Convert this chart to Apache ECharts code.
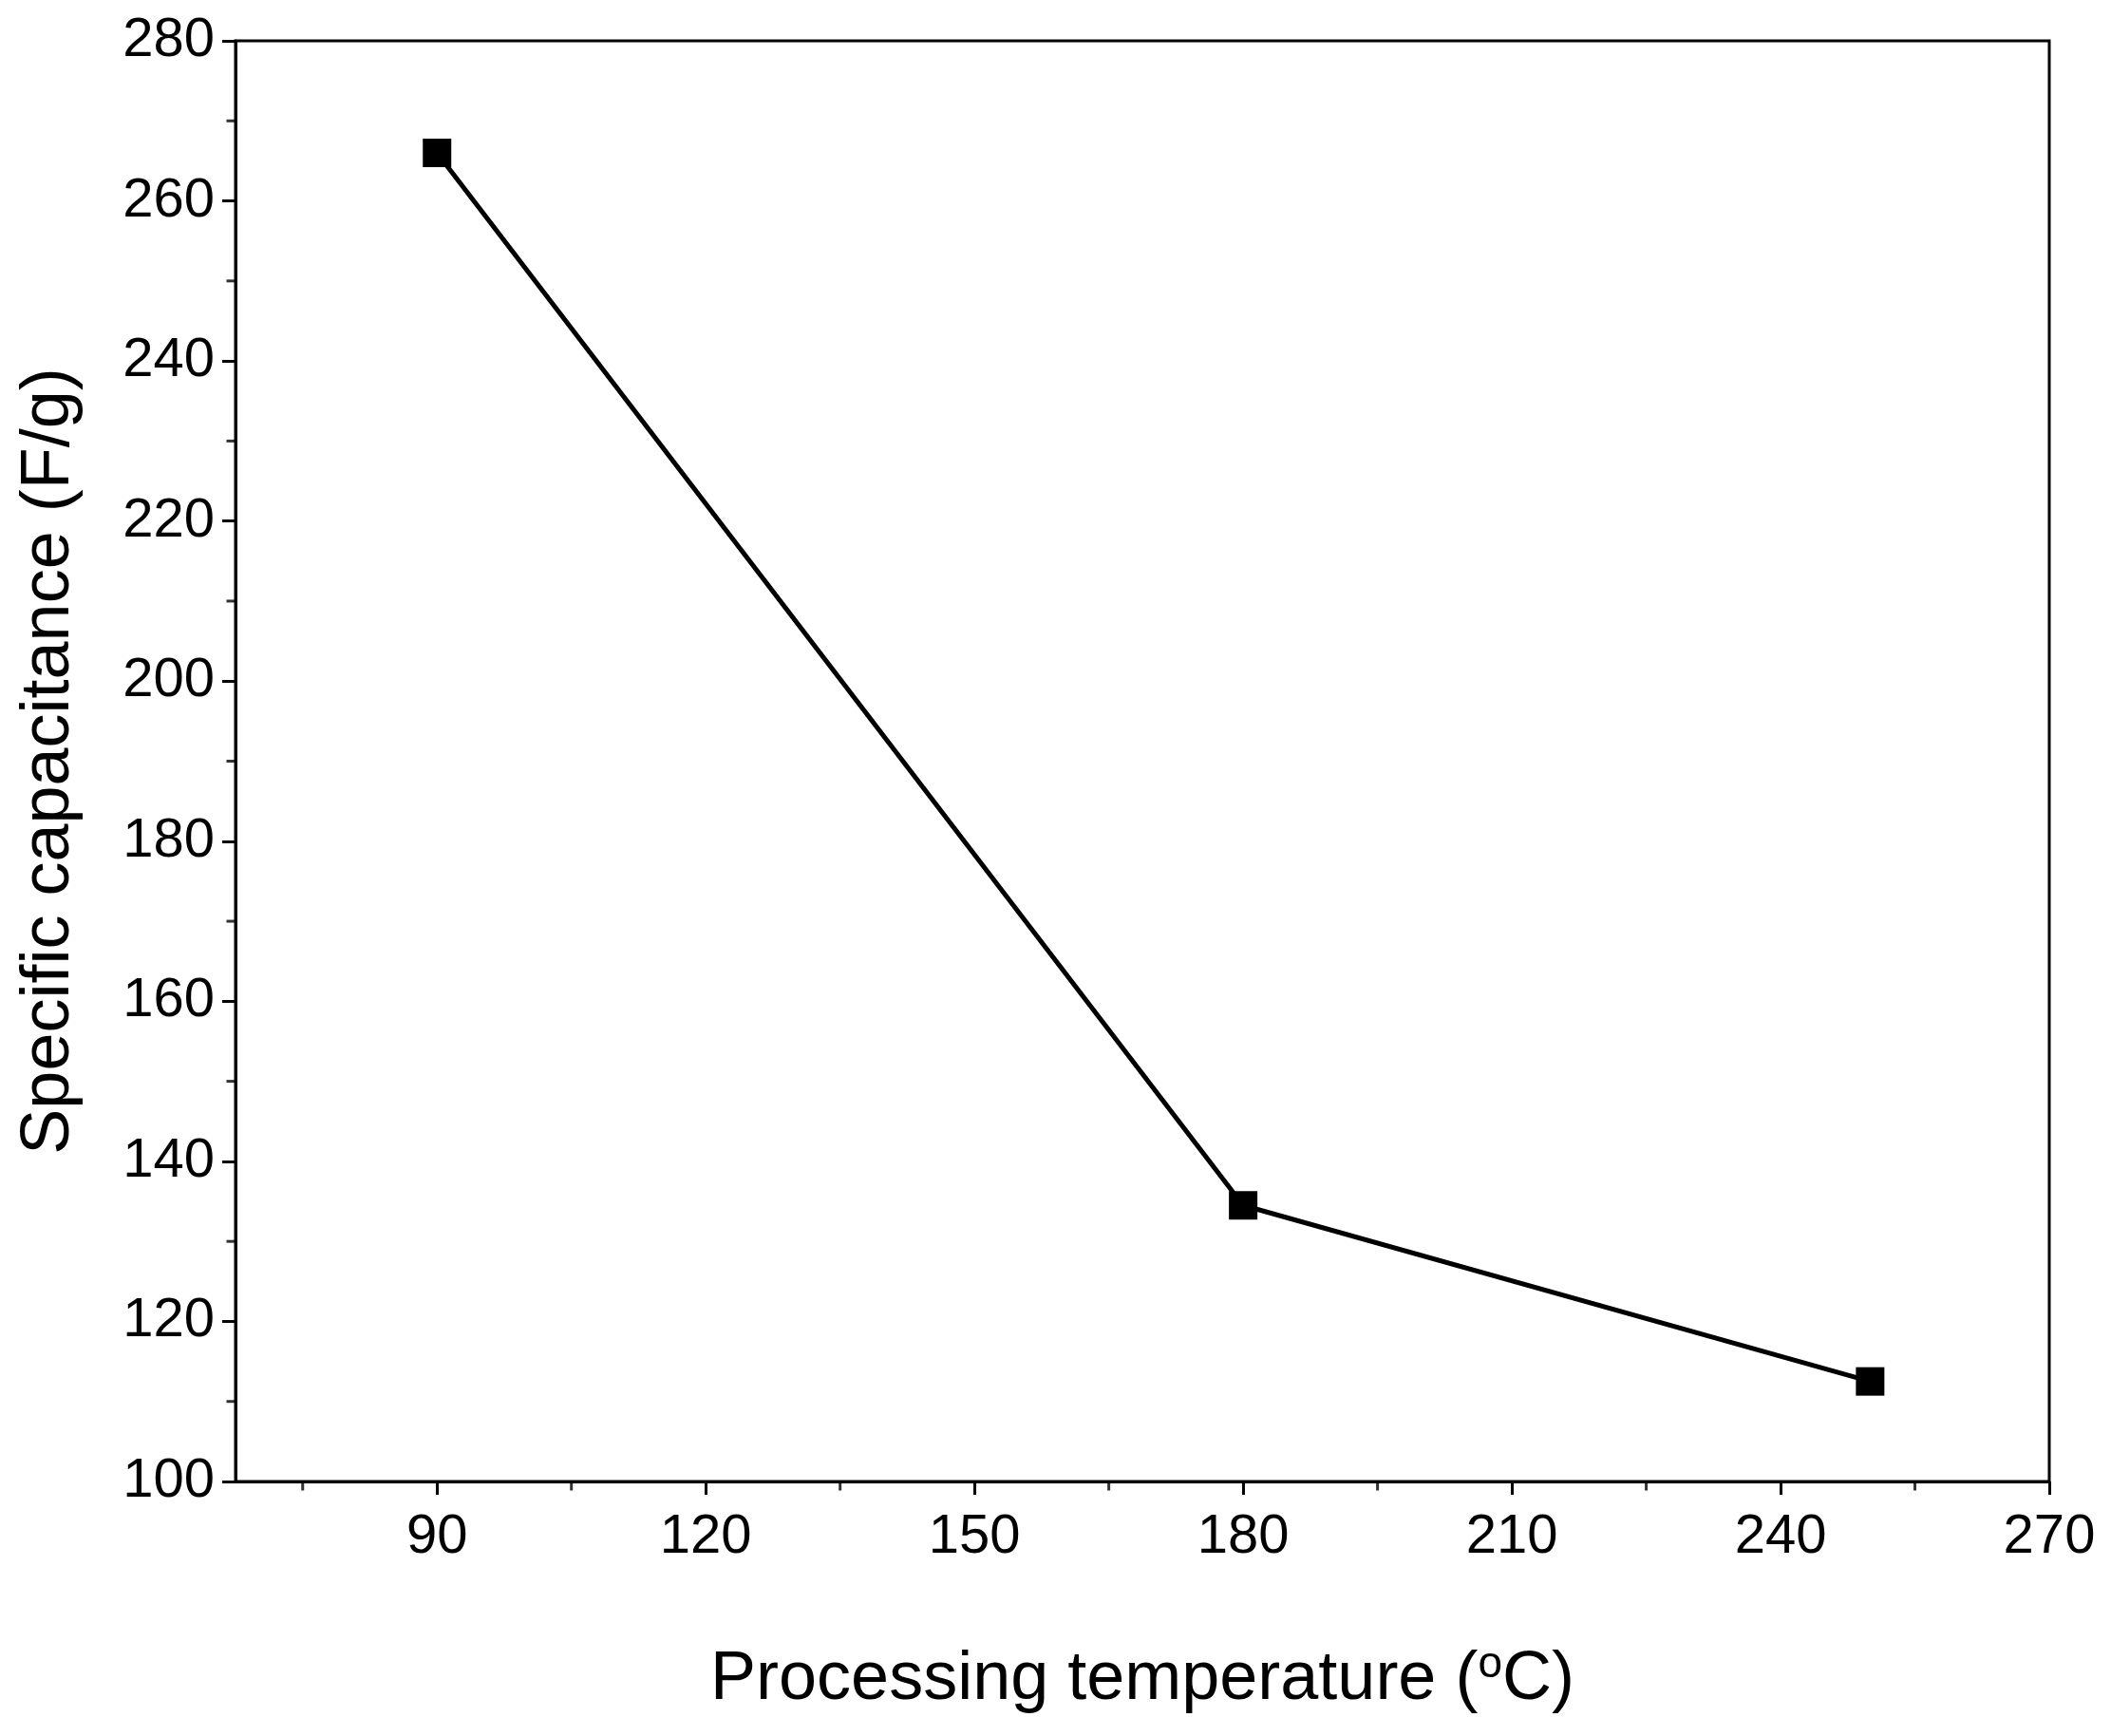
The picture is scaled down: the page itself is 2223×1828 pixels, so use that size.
<!DOCTYPE html>
<html><head><meta charset="utf-8">
<script src="https://cdn.jsdelivr.net/npm/echarts@6/dist/echarts.min.js"></script>
<style>html,body{margin:0;padding:0;background:#fff}#c{width:2223px;height:1828px}</style>
</head><body><div id="c"></div>
<script>
const temps = [90, 180, 250];
const capacitance = [266, 134.5, 112.5];
const xTicks = [90, 120, 150, 180, 210, 240, 270];
const xMinor = [75, 105, 135, 165, 195, 225, 255];
const yTicks = [100, 120, 140, 160, 180, 200, 220, 240, 260, 280];
const yMinor = [110, 130, 150, 170, 190, 210, 230, 250, 270];

const chart = echarts.init(document.getElementById('c'));
const font = 'Arial, Liberation Sans, sans-serif';
chart.setOption({
  animation: false,
  grid: {left: 248, right: 65, top: 43, bottom: 268, show: true, borderColor: '#000', borderWidth: 3},
  xAxis: {
    type: 'value', min: 67.5, max: 270,
    name: 'Processing temperature ({sup|o}C)', nameLocation: 'middle', nameGap: 170,
    nameTextStyle: {fontSize: 72, color: '#000', fontFamily: font,
      rich: {sup: {fontSize: 46, verticalAlign: 'top', padding: [0,0,32,0], fontFamily: font, color:'#000'}}},
    axisLine: {lineStyle: {color: '#000', width: 3}},
    axisTick: {show: true, customValues: xTicks, length: 14, lineStyle: {width: 3, color: '#000'}},
    axisLabel: {customValues: xTicks, fontSize: 58, color: '#000', margin: 30, fontFamily: font},
    splitLine: {show: false}
  },
  yAxis: {
    type: 'value', min: 100, max: 280,
    name: 'Specific capacitance (F/g)', nameLocation: 'middle', nameGap: 160,
    nameTextStyle: {fontSize: 72, color: '#000', fontFamily: font},
    axisLine: {lineStyle: {color: '#000', width: 3}},
    axisTick: {show: true, customValues: yTicks, length: 14, lineStyle: {width: 3, color: '#000'}},
    axisLabel: {customValues: yTicks, fontSize: 58, color: '#000', margin: 22, fontFamily: font},
    splitLine: {show: false}
  },
  series: [
    {type: 'line', data: temps.map((t, i) => [t, capacitance[i]]), symbol: 'rect', symbolSize: 30,
     itemStyle: {color: '#000'}, lineStyle: {color: '#000', width: 5}},
    {type: 'scatter', data: xMinor.map(v => [v, 100]), symbol: 'rect', symbolSize: [3, 9], symbolOffset: [0, 5],
     itemStyle: {color: '#000'}, silent: true},
    {type: 'scatter', data: yMinor.map(v => [67.5, v]), symbol: 'rect', symbolSize: [9, 3], symbolOffset: [-5, 0],
     itemStyle: {color: '#000'}, silent: true}
  ]
});
</script></body></html>
